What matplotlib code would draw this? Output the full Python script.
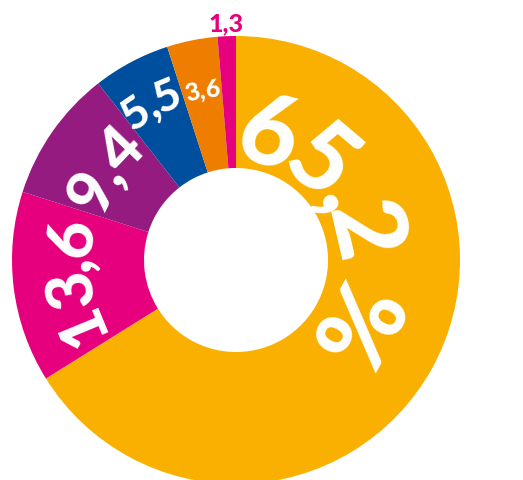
import numpy as np
import matplotlib.pyplot as plt
from matplotlib.font_manager import FontProperties
from matplotlib.textpath import TextToPath

valores = [65.2, 13.6, 9.4, 5.5, 3.6, 1.3]
rotulos = ['65,2 %', '13,6', '9,4', '5,5', '3,6', '1,3']
cores = ['#F9B000', '#E6007E', '#951B81', '#004F9F', '#EF7D00', '#E6007E']

fig = plt.figure(figsize=(5.23, 4.81), dpi=100)
ax = fig.add_axes([0, 0, 1, 1])

R = 224
r_in = 92
cx, cy = 236, 220

ax.pie(valores, colors=cores, startangle=90, counterclock=False, radius=R,
       center=(cx, cy), wedgeprops=dict(width=R - r_in, linewidth=0))
ax.set_xlim(0, 523)
ax.set_ylim(0, 481)
ax.set_aspect('equal')
ax.axis('off')

t2p = TextToPath()
PESO = 900


def largura(s, fp):
    if s == '':
        return 0.0
    w, h, d = t2p.get_text_width_height_descent(s, fp, ismath=False)
    return w * 100 / 72


def texto_arco(s, ang_centro, rb, tam, cor='white', fator=0.36):
    # texto em arco, lido no sentido horario, topo para fora
    fp = FontProperties(family='Lato', weight=PESO, size=tam)
    total = largura(s, fp)
    r_esp = rb + tam * 100 / 72 * fator
    for i, ch in enumerate(s):
        if ch == ' ':
            continue
        meio = (largura(s[:i], fp) + largura(s[:i + 1], fp)) / 2
        th = np.radians(ang_centro) + (meio - total / 2) / r_esp
        x = cx + rb * np.sin(th)
        y = cy + rb * np.cos(th)
        ax.text(x, y, ch, fontproperties=fp, color=cor, ha='center', va='baseline',
                rotation=-np.degrees(th), rotation_mode='anchor')


# angulo medio de cada fatia (graus, sentido horario a partir do topo)
fr = np.array(valores) / sum(valores) * 360
fim = np.cumsum(fr)
meios = fim - fr / 2

texto_arco(rotulos[0], 69.5, 100, 72, fator=0.28)
texto_arco(rotulos[1], meios[1], 147, 47)
texto_arco(rotulos[2], meios[2], 140, 45)
texto_arco(rotulos[3], meios[3] - 0.5, 165, 32)
texto_arco(rotulos[4], meios[4], 166, 18)

th = np.radians(meios[5])
ax.text(cx + 237 * np.sin(th), cy + 237 * np.cos(th), rotulos[5], color='#E6007E',
        fontsize=18, fontweight=PESO, family='Lato', ha='center', va='center')

fig.savefig('out.png', dpi=100)
